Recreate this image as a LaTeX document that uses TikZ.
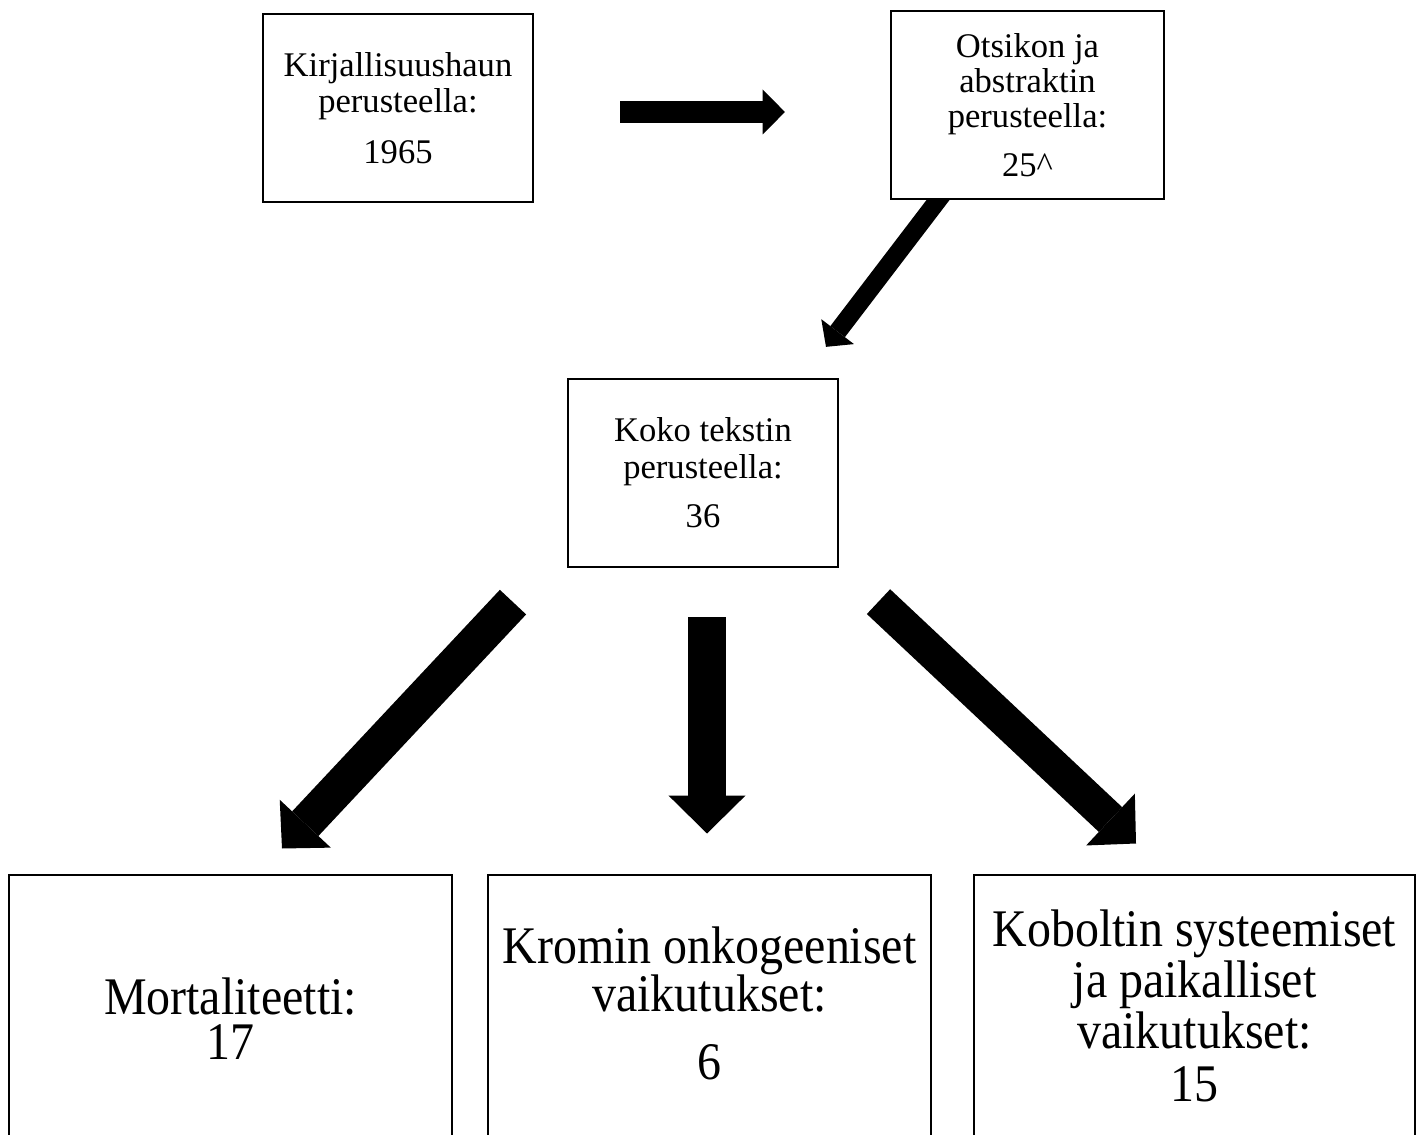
\documentclass[tikz,border=0pt]{standalone}
\usepackage{fontspec}
\setmainfont{Liberation Serif}
\newfontfamily\resultfont[FakeStretch=0.907]{Liberation Serif}
\usetikzlibrary{arrows.meta,calc,backgrounds}

\begin{document}
\begin{tikzpicture}[
	x=0.35pt, y=-0.35pt,
	block/.style={
		rectangle, draw=black, line width=0.8pt, fill=white,
		minimum width=94.5pt, minimum height=65.8pt, align=center,
		font={\fontsize{12.1}{12.3}\selectfont}
	},
	result/.style={
		rectangle, draw=black, line width=0.8pt, fill=white, anchor=north,
		minimum width=155pt, minimum height=97pt, align=center, text depth=0pt,
		font={\resultfont\fontsize{18.5}{13.3}\selectfont\lineskiplimit=-20pt}
	},
	blockarrow/.style n args={3}{
		draw, black, line width=#1,
		-{Triangle[length=#2, width=#3, line width=0pt]}
	},
	]
	\useasboundingbox (0,0) rectangle (1422,1135);
	\clip (0,0) rectangle (1422,1135);

	\node [block] (lit) at (398,108) {Kirjallisuushaun\\[0.4pt]perusteella:\\[5.3pt]1965};
	\node [block, minimum width=95.5pt] (abs) at (1027.5,105) {Otsikon ja\\abstraktin\\perusteella:\\[4.9pt]25\textasciicircum};
	\node [block] (full) at (703,473) {Koko tekstin\\[0.7pt]perusteella:\\[4.9pt]36};

	\node [result, text height=32.2pt] (mort) at (230.5,873.5) {Mortaliteetti:\\[2.4pt]17};
	\node [result, text height=46.2pt] (krom) at (709.5,873.5) {Kromin onkogeeniset\\[3.5pt]vaikutukset:\\[10.5pt]6};
	\node [result, text height=61.6pt, minimum width=154.4pt] (kob) at (1194.5,873.5) {Koboltin systeemiset\\[4.7pt]ja paikalliset\\[4.7pt]vaikutukset:\\[5pt]15};

	\begin{scope}[on background layer]
		\fill [white] (0,0) rectangle (1422,1135);
		\path [blockarrow={7.4pt}{7.8pt}{15.75pt}] ($(lit.east)+(86,4)$) -- ($(abs.west)+(-105,7)$);
		\path [blockarrow={6.4pt}{6.7pt}{14.4pt}] ($(abs.south)+(-85,-6)$) -- ($(full.north)+(123,-31)$);
		\path [blockarrow={12.6pt}{11.9pt}{24.5pt}] ($(full.south)+(-190,34)$) -- ($(mort.north)+(51.5,-25)$);
		\path [blockarrow={13.3pt}{13.3pt}{27pt}] ($(full.south)+(4,49)$) -- ($(krom.north)+(-2.5,-40)$);
		\path [blockarrow={11.9pt}{12.25pt}{24.9pt}] ($(full.south)+(175.5,33.5)$) -- ($(kob.north)+(-58.5,-30)$);
	\end{scope}
\end{tikzpicture}
\end{document}
